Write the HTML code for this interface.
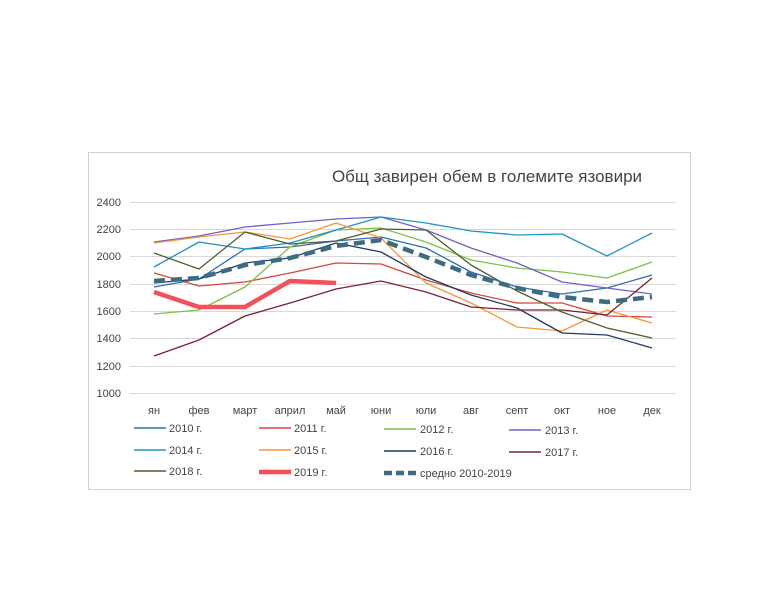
<!DOCTYPE html>
<html><head><meta charset="utf-8"><style>
html,body{margin:0;padding:0;background:#fff}
svg{display:block}
text{font-family:"Liberation Sans","DejaVu Sans",sans-serif;fill:#444}
</style></head><body>
<svg width="768" height="613" viewBox="0 0 768 613" xmlns="http://www.w3.org/2000/svg">
<rect x="0" y="0" width="768" height="613" fill="#fff"/>
<rect x="88.5" y="152.5" width="602" height="337" fill="#fff" stroke="#d0d0d0" stroke-width="1"/>
<text x="487" y="182" font-size="17" text-anchor="middle" fill="#444">Общ завирен обем в големите язовири</text>
<g stroke="#d9d9d9" stroke-width="1">
<line x1="130" x2="676" y1="202.5" y2="202.5"/><line x1="130" x2="676" y1="229.5" y2="229.5"/>
<line x1="130" x2="676" y1="256.5" y2="256.5"/><line x1="130" x2="676" y1="284.5" y2="284.5"/>
<line x1="130" x2="676" y1="311.5" y2="311.5"/><line x1="130" x2="676" y1="338.5" y2="338.5"/>
<line x1="130" x2="676" y1="366.5" y2="366.5"/><line x1="130" x2="676" y1="393.5" y2="393.5"/>
</g>
<g font-size="11" text-anchor="end">
<text x="121" y="206">2400</text><text x="121" y="233">2200</text><text x="121" y="260">2000</text>
<text x="121" y="288">1800</text><text x="121" y="315">1600</text><text x="121" y="342">1400</text>
<text x="121" y="370">1200</text><text x="121" y="397">1000</text>
</g>
<g font-size="11" text-anchor="middle">
<text x="154" y="414">ян</text><text x="199" y="414">фев</text><text x="245" y="414">март</text>
<text x="290" y="414">април</text><text x="336" y="414">май</text><text x="381" y="414">юни</text>
<text x="426" y="414">юли</text><text x="471" y="414">авг</text><text x="517" y="414">септ</text>
<text x="562" y="414">окт</text><text x="607" y="414">ное</text><text x="652" y="414">дек</text>
</g>
<g fill="none" stroke-width="1.3" stroke-linejoin="round">
<polyline stroke="#2f6db5" points="154,287 199,279 245,249 290,247 336,241 381,237 426,248 471,272 517,287 562,294 607,288 652,275"/>
<polyline stroke="#d9463a" points="154,273 199,286 245,282 290,273 336,263 381,264 426,280 471,293 517,303 562,303 607,316 652,317"/>
<polyline stroke="#7cc243" points="154,314 199,310 245,287 290,247 336,230 381,228 426,242 471,260 517,268 562,272 607,278 652,262"/>
<polyline stroke="#7060c8" points="154,242 199,236 245,227 290,223 336,219 381,217 426,230 471,248 517,263 562,282 607,288 652,294"/>
<polyline stroke="#1e95c0" points="154,267 199,242 245,249 290,243 336,230 381,217 426,223 471,231 517,235 562,234 607,256 652,233"/>
<polyline stroke="#f7963a" points="154,243 199,237 245,232 290,239 336,223 381,238 426,283 471,303 517,327 562,331 607,310 652,323"/>
<polyline stroke="#1f3a66" points="154,283 199,279 245,263 290,258 336,243 381,252 426,277 471,295 517,308 562,333 607,335 652,348"/>
<polyline stroke="#7a2230" points="154,356 199,340 245,316 290,303 336,289 381,281 426,292 471,307 517,310 562,310 607,315 652,278"/>
<polyline stroke="#4e6030" points="154,253 199,269 245,232 290,244 336,241 381,229 426,230 471,265 517,291 562,312 607,328 652,338"/>
<polyline stroke="#f4505a" stroke-width="4.5" points="154,292 199,307 245,307 290,281 336,283"/>
<polyline stroke="#3d6b80" stroke-width="4.5" stroke-dasharray="11,6" points="154,281 199,278 245,265 290,258 336,246 381,240 426,257 471,275 517,288 562,297 607,302 652,297"/>
</g>
<g stroke-width="1.5" font-size="11">
<line x1="134" x2="166" y1="428" y2="428" stroke="#2f6db5"/><text x="169" y="432">2010 г.</text>
<line x1="259" x2="291" y1="428" y2="428" stroke="#d9463a"/><text x="294" y="432">2011 г.</text>
<line x1="384" x2="416" y1="429" y2="429" stroke="#7cc243"/><text x="420" y="433">2012 г.</text>
<line x1="509" x2="541" y1="430" y2="430" stroke="#7060c8"/><text x="545" y="434">2013 г.</text>
<line x1="134" x2="166" y1="450" y2="450" stroke="#1e95c0"/><text x="169" y="454">2014 г.</text>
<line x1="259" x2="291" y1="450" y2="450" stroke="#f7963a"/><text x="294" y="454">2015 г.</text>
<line x1="384" x2="416" y1="451" y2="451" stroke="#1f3a66"/><text x="420" y="455">2016 г.</text>
<line x1="509" x2="541" y1="452" y2="452" stroke="#7a2230"/><text x="545" y="456">2017 г.</text>
<line x1="134" x2="166" y1="471" y2="471" stroke="#4e6030"/><text x="169" y="475">2018 г.</text>
<line x1="259" x2="291" y1="472" y2="472" stroke="#f4505a" stroke-width="4.5"/><text x="294" y="476">2019 г.</text>
<line x1="384" x2="416" y1="473" y2="473" stroke="#3d6b80" stroke-width="4.5" stroke-dasharray="8,4"/><text x="420" y="477">средно 2010-2019</text>
</g>
</svg>
</body></html>
